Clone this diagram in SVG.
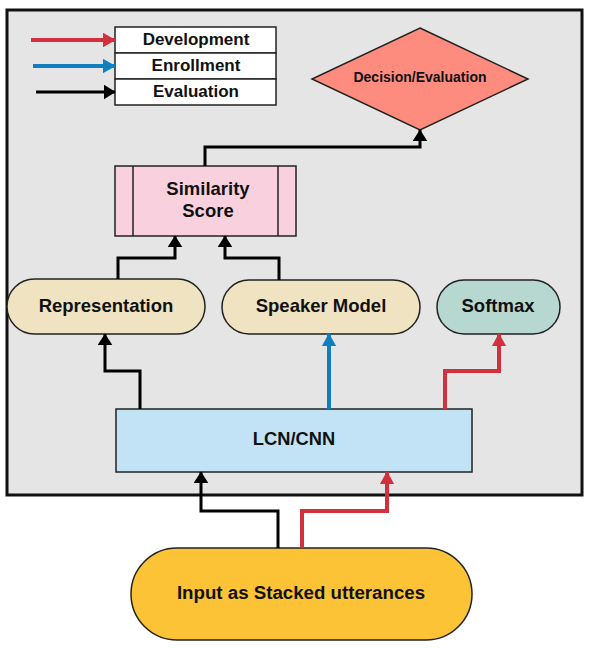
<svg xmlns="http://www.w3.org/2000/svg" width="600" height="659" viewBox="0 0 600 659">
<style>
text{font-family:"Liberation Sans",Arial,sans-serif;font-weight:bold;fill:#111;text-anchor:middle;dominant-baseline:central}
.n{stroke:#222;stroke-width:1.5}
.k{fill:none;stroke:#000;stroke-width:3}
.r{fill:none;stroke:#d0313d;stroke-width:4}
.b{fill:none;stroke:#0f7fc0;stroke-width:4}
</style>
<defs>
<marker id="ak" markerWidth="4" markerHeight="5" refX="3.8" refY="2.5" orient="auto" markerUnits="strokeWidth"><path d="M0,0L4,2.5L0,5z" fill="#000"/></marker>
<marker id="ar" markerWidth="3.2" markerHeight="3.6" refX="3" refY="1.8" orient="auto" markerUnits="strokeWidth"><path d="M0,0L3.2,1.8L0,3.6z" fill="#d0313d"/></marker>
<marker id="ab" markerWidth="3.2" markerHeight="3.6" refX="3" refY="1.8" orient="auto" markerUnits="strokeWidth"><path d="M0,0L3.2,1.8L0,3.6z" fill="#0f7fc0"/></marker>
</defs>
<rect width="600" height="659" fill="#fff"/>
<rect x="7" y="10" width="575" height="485" fill="#e5e5e5" stroke="#111" stroke-width="3"/>
<g id="legend">
<rect x="115" y="27" width="161" height="26" fill="#fff" class="n"/>
<rect x="115" y="53" width="161" height="26" fill="#fff" class="n"/>
<rect x="115" y="79" width="161" height="26" fill="#fff" class="n"/>
<text x="196" y="39" font-size="17">Development</text>
<text x="196" y="65" font-size="17">Enrollment</text>
<text x="196" y="91" font-size="17">Evaluation</text>
<line x1="31" y1="40" x2="115" y2="40" class="r" marker-end="url(#ar)"/>
<line x1="33" y1="66" x2="115" y2="66" class="b" marker-end="url(#ab)"/>
<line x1="36" y1="92" x2="115" y2="92" class="k" stroke-width="4" style="marker-end:url(#ak)"/>
</g>
<g id="decision">
<polygon points="420,28 528,79 420,130 312,79" fill="#fe8c7e" class="n"/>
<text x="420" y="77" font-size="14">Decision/Evaluation</text>
</g>
<g id="similarity">
<rect x="115" y="166" width="181" height="70" fill="#f9d1de" class="n"/>
<line x1="133" y1="166" x2="133" y2="236" class="n"/>
<line x1="278" y1="166" x2="278" y2="236" class="n"/>
<text x="208" y="188" font-size="18.5">Similarity</text>
<text x="208" y="210" font-size="18.5">Score</text>
</g>
<g id="representation">
<rect x="7" y="279" width="198" height="55" rx="27.5" fill="#efe3c1" class="n"/>
<text x="106" y="305" font-size="18.5">Representation</text>
</g>
<g id="speaker">
<rect x="222" y="280" width="198" height="54" rx="27" fill="#efe3c1" class="n"/>
<text x="321" y="305" font-size="18.5">Speaker Model</text>
</g>
<g id="softmax">
<rect x="437" y="280" width="123" height="54" rx="27" fill="#b7d8d0" class="n"/>
<text x="498" y="305" font-size="18.5">Softmax</text>
</g>
<g id="lcn">
<rect x="116" y="409" width="356" height="63" fill="#c2e3f6" class="n"/>
<text x="294" y="438" font-size="18.3">LCN/CNN</text>
</g>
<g id="input">
<rect x="131" y="548" width="341" height="92" rx="46" fill="#fbc335" class="n"/>
<text x="301" y="592" font-size="18.7">Input as Stacked utterances</text>
</g>
<g id="connectors">
<polyline points="205,166 205,147 420,147 420,130" class="k" stroke-width="2" marker-end="url(#ak)"/>
<polyline points="118,279 118,258 175,258 175,236" class="k" marker-end="url(#ak)"/>
<polyline points="279,280 279,258 225,258 225,236" class="k" marker-end="url(#ak)"/>
<polyline points="140,409 140,371 105,371 105,334" class="k" marker-end="url(#ak)"/>
<line x1="329" y1="409" x2="329" y2="334" class="b" marker-end="url(#ab)"/>
<polyline points="445,409 445,371 499,371 499,334" class="r" marker-end="url(#ar)"/>
<polyline points="278,548 278,511 201,511 201,472" class="k" marker-end="url(#ak)"/>
<polyline points="302,548 302,511 387,511 387,472" class="r" marker-end="url(#ar)"/>
</g>
</svg>
